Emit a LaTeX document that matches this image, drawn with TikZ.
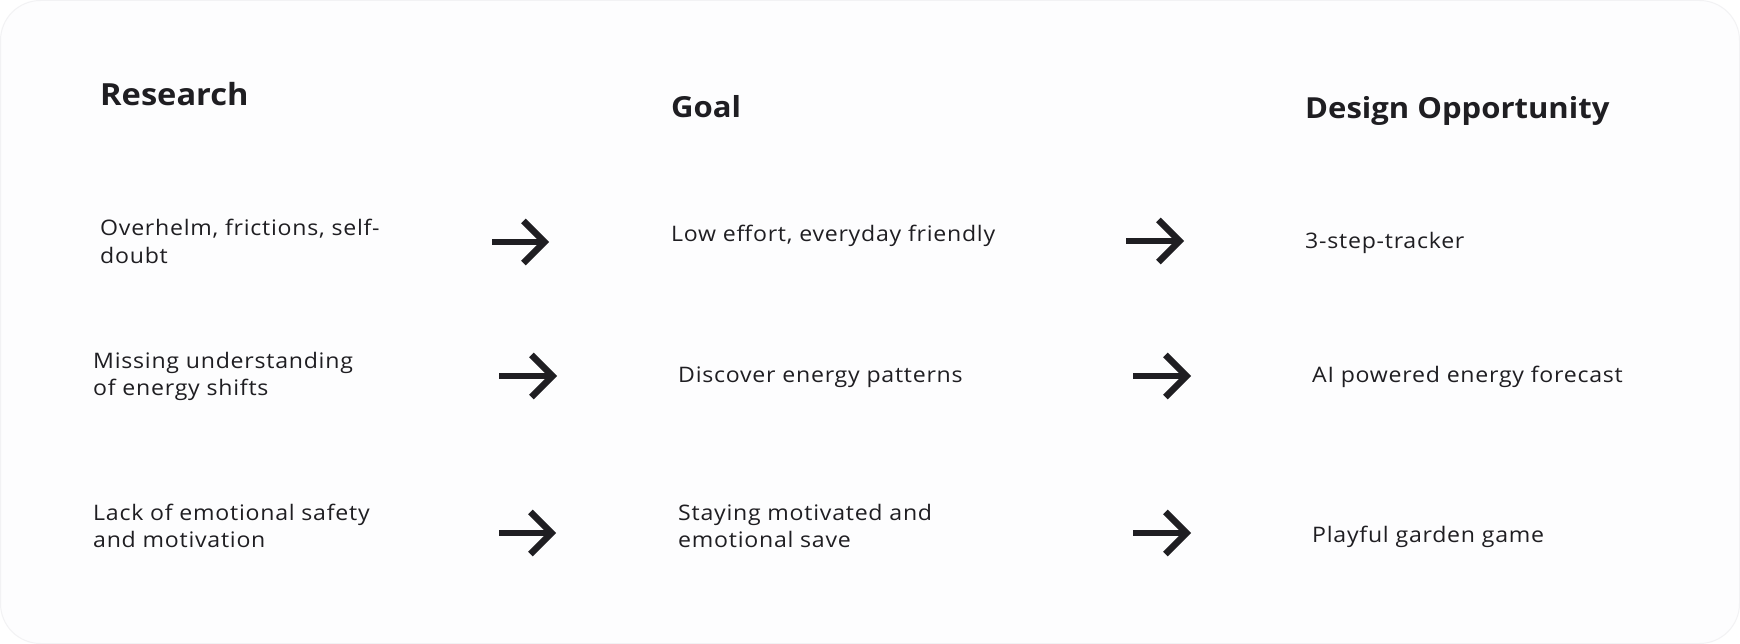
\documentclass[tikz,border=0pt]{standalone}
\usepackage{fontspec}
\setmainfont{Open Sans}[FakeStretch=1.08, LetterSpace=3.5]
\newfontfamily\headfont{Open Sans}[FakeStretch=1.07]
\usetikzlibrary{arrows.meta}
\definecolor{ink}{HTML}{1F1E22}
\definecolor{bgc}{HTML}{FDFDFE}
\definecolor{rim}{HTML}{F2F2F4}
\begin{document}
\begin{tikzpicture}[x=1pt,y=-1pt,
  head/.style={anchor=base west, inner sep=0pt, text=ink, font=\headfont\fontsize{29}{35}\selectfont\bfseries},
  body/.style={anchor=base west, inner sep=0pt, text=ink, font=\fontsize{21.4}{27.5}\selectfont},
  arr/.style={draw=ink, line width=6.5pt, -{Straight Barb[length=21pt,width=42pt]}}]
\useasboundingbox (0,0) rectangle (1740,644);
\fill[white] (0,0) rectangle (1740,644);
\draw[rim, fill=bgc, line width=1pt, rounded corners=40pt] (0.5,0.5) rectangle (1739.5,643.5);
% headers
\node[head, font=\headfont\fontsize{30.5}{37}\selectfont\bfseries] (hres) at (100,106) {Research};
\node[head] (hgoal) at (671,118) {Goal};
\node[head] (hdes) at (1305,119) {Design Opportunity};
% row 1
\node[body] (r1) at (100,236) {\begin{tabular}[t]{@{}l@{}}Overhelm, frictions, self-\\doubt\end{tabular}};
\node[body] (g1) at (671,242) {Low effort, everyday friendly};
\node[body] (d1) at (1305,249) {3-step-tracker};
% row 2
\node[body] (r2) at (93,368) {\begin{tabular}[t]{@{}l@{}}Missing understanding\\of energy shifts\end{tabular}};
\node[body] (g2) at (678,382) {Discover energy patterns};
\node[body] (d2) at (1312,382) {AI powered energy forecast};
% row 3
\node[body] (r3) at (93,520) {\begin{tabular}[t]{@{}l@{}}Lack of emotional safety\\and motivation\end{tabular}};
\node[body] (g3) at (678,520) {\begin{tabular}[t]{@{}l@{}}Staying motivated and\\emotional save\end{tabular}};
\node[body] (d3) at (1312,542) {Playful garden game};
% arrows
\coordinate (a1s) at (492,242); \coordinate (a1e) at (549,242);
\coordinate (b1s) at (1126,241); \coordinate (b1e) at (1184,241);
\coordinate (a2s) at (499,376); \coordinate (a2e) at (557,376);
\coordinate (b2s) at (1133,376); \coordinate (b2e) at (1191,376);
\coordinate (a3s) at (499,533); \coordinate (a3e) at (556,533);
\coordinate (b3s) at (1133,533); \coordinate (b3e) at (1191,533);
\draw[arr] (a1s) -- (a1e);
\draw[arr] (b1s) -- (b1e);
\draw[arr] (a2s) -- (a2e);
\draw[arr] (b2s) -- (b2e);
\draw[arr] (a3s) -- (a3e);
\draw[arr] (b3s) -- (b3e);
\end{tikzpicture}
\end{document}
